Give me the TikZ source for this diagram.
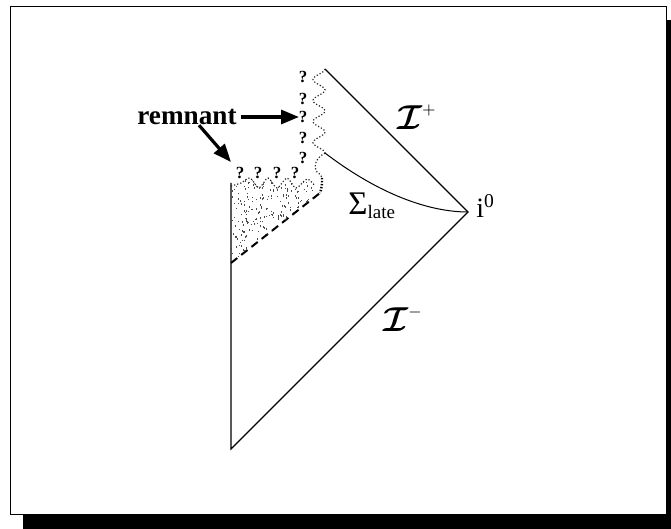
\documentclass[tikz,border=0pt]{standalone}
\usepackage{amsmath}
\usepackage{fontspec}
\setmainfont{Liberation Serif}
\usetikzlibrary{arrows.meta}

\tikzset{
  frameline/.style={line width=0.5pt},
  bigarrow/.style={line width=1.6pt,-{Triangle[length=9pt,width=7pt]}},
  qmark/.style={font=\bfseries\fontsize{8.5}{9}\selectfont,inner sep=0pt},
  wavy/.style={line width=0.6pt,black!85,densely dotted},
  label/.style={anchor=base west,inner sep=0pt},
}
\newcommand{\scrilabel}[1]{\fontsize{16}{16}\selectfont$\boldsymbol{\mathcal{I}}^{\scriptscriptstyle #1}$}

\begin{document}
\begin{tikzpicture}[x=0.5pt,y=-0.5pt]
  \useasboundingbox (0,0) rectangle (671,529);
  \fill (23,515) rectangle (671,529); % 影（下）
  \fill (666,20) rectangle (671,529); % 影（右）
  \draw[frameline,fill=white] (10,7) rectangle (666,515); % 枠

  \coordinate (bot) at (231,449); % 下端
  \coordinate (izero) at (468,212); % 空間的無限遠
  \coordinate (top) at (325,69); % 上端
  \coordinate (sig) at (325,153); % 面の始点
  \coordinate (wl) at (231,183); % 左の縦線の上端
  \coordinate (dl) at (231,263); % 破線の左端
  \coordinate (dr) at (320,193); % 破線の右端

  \draw[line width=0.6pt] (wl) -- (bot) -- (izero) -- (top); % 境界
  \draw[line width=0.5pt] (sig) .. controls (380,195) and (430,212) .. (izero); % 遅い時刻の面
  \draw[line width=1pt,dash pattern=on 4pt off 2.5pt] (dl) -- (dr); % 地平線

  % 点描
  \begin{scope}
    \clip (wl) -- plot[smooth] coordinates {(231,186) (241,183) (250,178) (259,188) (268,178) (277,188) (287,178) (296,188) (307,179) (315,186)}
      -- (322,180) -- (dr) -- (dl) -- cycle;
    \pgfmathsetseed{7}
    \foreach \k in {1,...,380} {
      \fill[black!70] ({231+92*rnd},{176+88*rnd}) rectangle ++(1,1.5);
    }
  \end{scope}

  \draw[wavy] plot[domain=0:84,samples=90,variable=\t] ({319+6*cos(17.1428*\t)},{69+\t}); % 特異点（縦）
  \draw[wavy] plot[smooth] coordinates {(231,186) (241,183) (250,178) (259,188) (268,178) (277,188) (287,178) (296,188) (307,179) (315,186)}; % 特異点（横）
  \draw[wavy] (sig) .. controls (316,158) and (313,166) .. (317,172) .. controls (321,175) .. (322,178); % つなぎ
  \draw[line width=1.2pt,dash pattern=on 0.7pt off 0.8pt] (322,178) .. controls (322,186) .. (dr); % 太い点線

  \foreach \y [count=\i] in {77,99,117,138,158}
    \node[qmark] (q\i) at (303,\y) {?}; % 縦の疑問符
  \foreach \x [count=\i] in {240,258,277,295}
    \node[qmark] (r\i) at (\x,173) {?}; % 横の疑問符

  \node[font=\bfseries\fontsize{13.6}{14}\selectfont,inner sep=0pt] (remnant) at (187,117) {remnant};
  \coordinate (qtip) at (299,117);
  \coordinate (rtip) at (231,162);
  \draw[bigarrow,shorten <=2pt] (remnant.east) -- (qtip); % 右向きの矢印
  \draw[bigarrow] ([xshift=6pt]remnant.south) -- (rtip); % 斜めの矢印

  \node[label] (scriplus) at (397,130) {\scrilabel{+}};
  \node[label] (scriminus) at (383,332) {\scrilabel{-}};
  \node[label] (sigma) at (348,215) {\fontsize{16.5}{16}\selectfont Σ\raisebox{-2pt}{\fontsize{9.5}{9}\selectfont late}};
  \node[label] (izlabel) at (476,218) {\fontsize{14}{14}\selectfont i\textsuperscript{0}};
\end{tikzpicture}
\end{document}
